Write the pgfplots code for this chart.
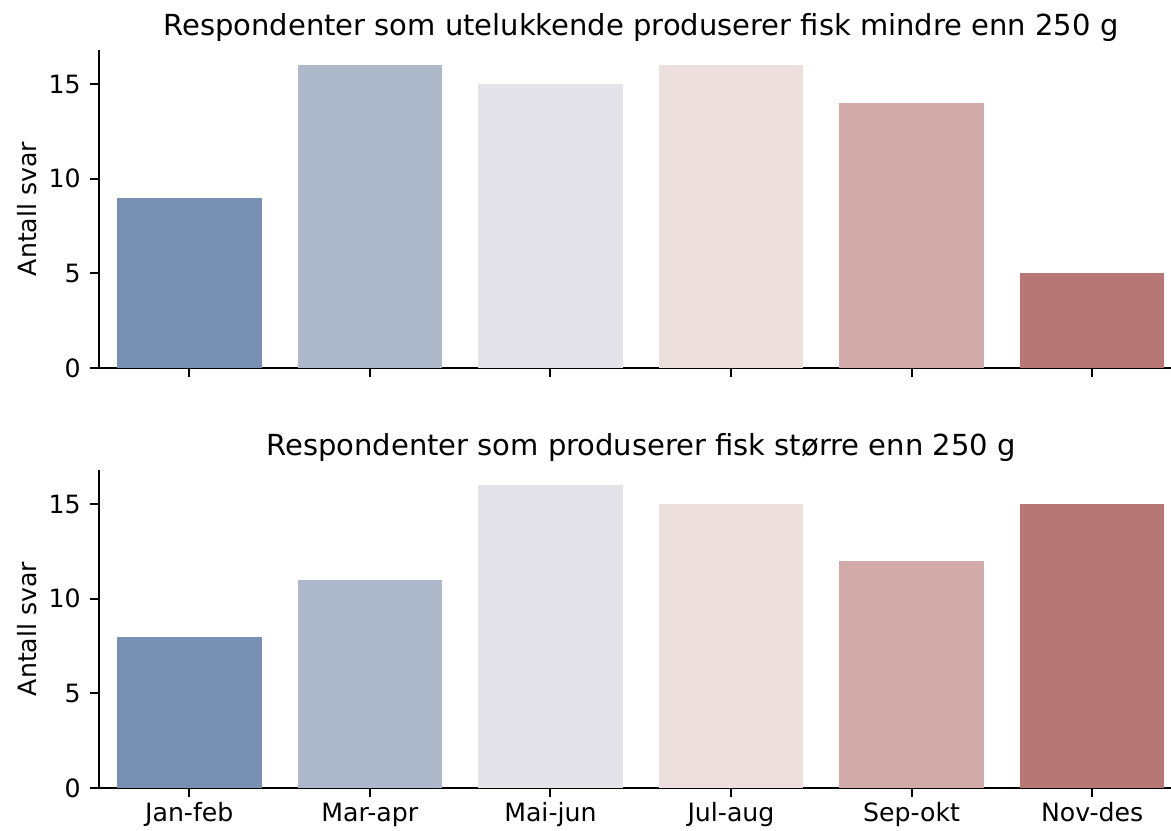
\documentclass[border=0pt]{standalone}
\usepackage{pgfplots}
\pgfplotsset{compat=1.18}
\usepackage{fontspec}
\setmainfont{DejaVu Sans}
\definecolor{c1}{HTML}{7890B4}
\definecolor{c2}{HTML}{ADB8CB}
\definecolor{c3}{HTML}{E4E3EA}
\definecolor{c4}{HTML}{EEDFDF}
\definecolor{c5}{HTML}{D3AAAA}
\definecolor{c6}{HTML}{B77775}
\pgfplotsset{
  myax/.style={
    scale only axis, width=536pt, height=159pt,
    xmin=-0.5, xmax=5.437, ymin=0, ymax=16.8,
    axis x line*=bottom, axis y line*=left,
    axis line style={line width=1pt, black},
    xtick={0,1,2,3,4,5}, ytick={0,5,10,15},
    tick align=outside, major tick length=4.5pt,
    tick style={line width=1pt, black},
    /pgf/number format/assume math mode=true,
    font=\fontsize{12.4}{14}\selectfont,
    yticklabel style={inner sep=0pt, xshift=-4.5pt, font=\fontsize{12.6}{14}\selectfont},
    xticklabel style={inner sep=0pt, anchor=base, yshift=-12pt, font=\fontsize{12.6}{14}\selectfont},
    every axis title/.style={at={(axis description cs:0.5056,1)}, anchor=base, yshift=7pt, inner sep=0pt, font=\fontsize{14.5}{17}\selectfont},
    every axis y label/.style={at={(axis description cs:-0.0585,0.5)}, rotate=90, anchor=base, inner sep=0pt, font=\fontsize{12.6}{14}\selectfont},
    ylabel={Antall svar},
  },
  mybar/.style={ybar, bar width=0.8, bar shift=0pt, draw=none, fill=#1},
}
\begin{document}
\begin{tikzpicture}
\useasboundingbox (-49.5pt,-21pt) rectangle (536pt,394pt);
\begin{axis}[myax, at={(0pt,210pt)}, anchor=south west,
  xticklabels={},
  title={Respondenter som utelukkende produserer fisk mindre enn 250 g}]
\addplot[mybar=c1] coordinates {(0,9)};
\addplot[mybar=c2] coordinates {(1,16)};
\addplot[mybar=c3] coordinates {(2,15)};
\addplot[mybar=c4] coordinates {(3,16)};
\addplot[mybar=c5] coordinates {(4,14)};
\addplot[mybar=c6] coordinates {(5,5)};
\end{axis}
\begin{axis}[myax, at={(0pt,0pt)}, anchor=south west,
  xticklabels={Jan-feb,Mar-apr,Mai-jun,Jul-aug,Sep-okt,Nov-des},
  title={Respondenter som produserer fisk større enn 250 g}]
\addplot[mybar=c1] coordinates {(0,8)};
\addplot[mybar=c2] coordinates {(1,11)};
\addplot[mybar=c3] coordinates {(2,16)};
\addplot[mybar=c4] coordinates {(3,15)};
\addplot[mybar=c5] coordinates {(4,12)};
\addplot[mybar=c6] coordinates {(5,15)};
\end{axis}
\end{tikzpicture}
\end{document}
